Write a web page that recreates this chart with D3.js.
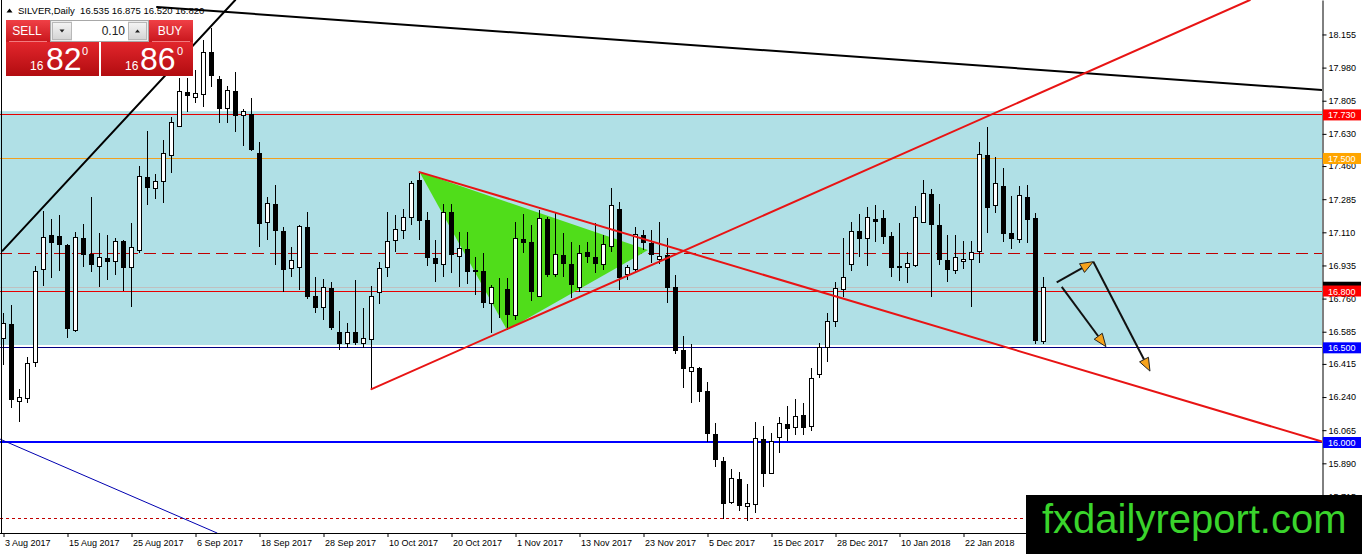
<!DOCTYPE html>
<html><head><meta charset="utf-8">
<script src="https://cdn.jsdelivr.net/npm/d3@7"></script>
<style>
body{margin:0;background:#fff;overflow:hidden}
svg{display:block}
text{font-family:"Liberation Sans",Arial,sans-serif}
</style>
</head><body>
<svg id="c" width="1362" height="554"></svg>
<script>
// ---------------- DATA ----------------
const openP=[16.551,16.625,16.219,16.234,16.425,16.916,17.096,17.090,17.043,16.594,
17.080,16.995,16.932,16.974,16.958,17.064,16.927,17.016,17.402,17.344,
17.381,17.518,17.671,17.851,17.825,17.840,18.062,17.920,17.766,17.856,
17.730,17.735,17.529,17.164,17.259,17.117,16.921,16.927,17.138,16.773,
16.715,16.816,16.583,16.525,16.583,16.525,16.546,16.795,16.927,17.069,
17.122,17.191,17.386,17.175,16.974,16.942,17.217,16.985,17.022,16.911,
16.905,16.736,16.816,16.810,16.673,17.074,17.059,16.773,17.180,16.890,
16.990,16.942,16.821,17.006,16.979,16.942,17.037,17.233,16.890,16.916,
17.096,17.053,16.969,16.990,16.821,16.488,16.377,16.393,16.272,16.044,
15.902,15.685,15.807,15.664,15.675,16.018,15.838,16.029,16.097,16.081,
16.145,16.087,16.361,16.504,16.641,16.810,16.942,17.117,17.080,17.180,
17.185,17.090,16.932,16.927,16.937,17.164,17.312,17.148,16.964,16.911,
16.958,16.969,17.011,17.518,17.254,17.354,17.106,17.074,17.296,17.185,16.535];
const highP=[16.684,16.726,16.282,16.451,16.932,17.222,17.180,17.201,17.048,17.111,
17.154,17.296,17.106,17.096,17.080,17.069,17.159,17.460,17.645,17.418,
17.597,17.719,17.925,17.925,17.967,18.126,18.189,17.936,17.883,17.957,
17.761,17.819,17.587,17.296,17.360,17.138,17.032,17.148,17.217,16.874,
16.863,16.847,16.694,16.631,16.858,16.710,16.826,16.953,17.217,17.201,
17.233,17.381,17.428,17.217,17.069,17.259,17.259,17.111,17.111,16.979,
17.000,16.831,16.868,16.868,17.164,17.207,17.148,17.228,17.191,17.212,
17.106,17.059,17.043,17.059,17.159,17.096,17.344,17.270,16.937,17.138,
17.122,17.122,17.164,17.080,16.884,16.562,16.520,16.398,16.319,16.103,
15.923,15.859,15.844,15.780,16.108,16.087,16.050,16.134,16.192,16.229,
16.208,16.393,16.525,16.684,16.847,17.080,17.164,17.207,17.243,17.254,
17.228,17.111,17.159,17.006,17.249,17.386,17.339,17.259,17.096,17.096,
17.064,17.064,17.587,17.666,17.508,17.450,17.302,17.354,17.360,17.212,16.875];
const lowP=[16.409,16.182,16.108,16.208,16.398,16.826,16.868,16.905,16.551,16.583,
16.927,16.900,16.821,16.858,16.884,16.800,16.715,17.000,17.254,17.286,
17.265,17.423,17.666,17.745,17.793,17.772,17.877,17.687,17.687,17.640,
17.566,17.539,17.032,17.069,16.937,16.795,16.874,16.805,16.758,16.684,
16.647,16.594,16.488,16.499,16.515,16.499,16.282,16.731,16.874,17.006,
17.074,17.148,17.069,16.932,16.847,16.874,16.895,16.821,16.837,16.779,
16.710,16.578,16.657,16.594,16.647,17.000,16.747,16.768,16.874,16.874,
16.874,16.763,16.795,16.948,16.895,16.911,17.006,16.805,16.858,16.900,
17.016,16.948,16.942,16.736,16.467,16.287,16.208,16.213,16.002,15.870,
15.595,15.675,15.638,15.585,15.627,15.764,15.833,15.944,16.007,16.039,
16.039,16.060,16.340,16.425,16.610,16.768,16.905,16.979,16.932,17.059,
17.048,16.874,16.853,16.842,16.927,17.164,16.768,16.937,16.847,16.890,
16.916,16.715,16.948,17.106,17.212,17.059,17.022,17.053,17.053,16.520,16.520];
const closeP=[16.631,16.229,16.240,16.419,16.905,17.085,17.059,17.048,16.604,17.085,
16.995,16.942,16.979,16.958,17.064,16.927,17.032,17.407,17.349,17.381,
17.529,17.692,17.856,17.835,17.846,18.062,17.941,17.766,17.862,17.730,
17.751,17.550,17.159,17.265,17.122,16.916,16.964,17.143,16.773,16.715,
16.821,16.610,16.525,16.583,16.530,16.551,16.773,16.921,17.064,17.127,
17.191,17.370,17.175,16.979,16.948,17.217,16.995,17.027,16.905,16.905,
16.742,16.821,16.818,16.678,17.080,17.059,16.800,17.185,16.890,16.995,
16.948,16.837,17.000,16.985,16.948,17.048,17.254,16.874,16.927,17.101,
17.059,16.995,16.985,16.821,16.488,16.393,16.398,16.272,16.050,15.912,
15.680,15.812,15.669,15.680,16.023,15.838,16.007,16.103,16.076,16.139,
16.081,16.340,16.504,16.641,16.816,16.874,17.117,17.080,17.191,17.170,
17.090,16.927,16.927,16.948,17.191,17.317,17.154,16.969,16.916,16.979,
16.969,17.006,17.523,17.244,17.370,17.106,17.080,17.307,17.180,16.540,16.820];

const xTickIdx=[0,8,16,24,32,40,48,56,64,72,80,88,96,104,112,120];
const xTickLabels=["3 Aug 2017","15 Aug 2017","25 Aug 2017","6 Sep 2017","18 Sep 2017","28 Sep 2017",
"10 Oct 2017","20 Oct 2017","1 Nov 2017","13 Nov 2017","23 Nov 2017","5 Dec 2017","15 Dec 2017",
"28 Dec 2017","10 Jan 2018","22 Jan 2018"];
const yTicks=[18.155,17.980,17.805,17.630,17.460,17.285,17.110,16.935,16.760,16.585,16.415,16.240,16.065,15.890,15.715];

const band=[16.515,17.75];
const levelPrices=[17.73,17.5,17.0,16.82,16.8,16.5,16.0,15.6];
const levelColors=["#e80000","#f0a020","#c00000","#c0c0c0","#e80000","#000080","#0000ff","#c00000"];
const levelDash=[null,null,"12,6",null,null,null,null,"3,3"];
const levelWidth=[1,1,1,1,1,1,2,1];

const tagPrices=[17.73,17.5,16.82,16.8,16.5,16.0];
const tagColors=["#ff0000","#ffa500","#000000","#ff0000","#0000ff","#0000ff"];
const tagShowText=[true,true,false,true,true,true];

// trend lines: [i1,p1,i2,p2]
const blackLines=[[-0.1,17.013,28.97,18.337],[19.19,18.300,164.8,17.862]];
const blueLine=[-0.44,16.018,26.69,15.522];
const redLines=[[46,16.282,155.8,18.337],[52,17.428,164.8,16.005]];
const triI=[52,80.56,62.94];
const triP=[17.428,17.016,16.594];
// arrows: [i1,p1,i2,p2]
const arrows=[[131.65,16.846,136.23,16.955],[136.23,16.955,143.31,16.377],[132.28,16.822,137.81,16.506]];

// ---------------- CHART ----------------
const plotR=1322, plotB=533;
const x=d3.scaleLinear().domain([0,130]).range([3.5,1043.5]);
const y=d3.scaleLinear().domain([15.522,18.337]).range([533,0]);
const svg=d3.select("#c");
const defs=svg.append("defs");
defs.append("clipPath").attr("id","plot").append("rect").attr("x",0).attr("y",0).attr("width",plotR).attr("height",plotB);

const g=svg.append("g").attr("clip-path","url(#plot)");
g.append("rect").attr("x",0).attr("width",plotR).attr("y",y(band[1])).attr("height",y(band[0])-y(band[1])).attr("fill","#b0e0e6");

levelPrices.forEach((p,k)=>{
  const yy=levelWidth[k]===2?Math.round(y(p)):Math.round(y(p)-0.5)+0.5;
  g.append("line").attr("x1",0).attr("x2",plotR).attr("y1",yy).attr("y2",yy)
   .attr("stroke",levelColors[k]).attr("stroke-width",levelWidth[k])
   .attr("stroke-dasharray",levelDash[k]);
});

// green triangle
g.append("polygon").attr("points",triI.map((d,k)=>x(d)+","+y(triP[k])).join(" ")).attr("fill","#50dd1a");

// candles
const data=openP.map((o,i)=>({i,o,h:highP[i],l:lowP[i],c:closeP[i]}));
const px=i=>Math.round(x(i)-0.5)+0.5;
const cg=g.append("g");
cg.selectAll("line").data(data).join("line")
  .attr("x1",d=>px(d.i)).attr("x2",d=>px(d.i))
  .attr("y1",d=>Math.round(y(d.h))).attr("y2",d=>Math.round(y(d.l)))
  .attr("stroke","#000").attr("stroke-width",1);
cg.selectAll("rect").data(data).join("rect")
  .attr("x",d=>px(d.i)-2).attr("width",4)
  .attr("y",d=>Math.round(y(Math.max(d.o,d.c)))+0.5)
  .attr("height",d=>Math.max(0,Math.round(y(Math.min(d.o,d.c)))-Math.round(y(Math.max(d.o,d.c)))))
  .attr("fill",d=>d.c>=d.o?"#fff":"#000").attr("stroke","#000").attr("stroke-width",1);

// trend lines
const seg=(a,col,w)=>g.append("line").attr("x1",x(a[0])).attr("y1",y(a[1])).attr("x2",x(a[2])).attr("y2",y(a[3]))
  .attr("stroke",col).attr("stroke-width",w).attr("stroke-linecap","round");
seg(blueLine,"#0000b0",1);
blackLines.forEach(a=>seg(a,"#000",2));
redLines.forEach(a=>seg(a,"#e81414",2));

// arrows
arrows.forEach(a=>{
  const x1=x(a[0]),y1=y(a[1]),x2=x(a[2]),y2=y(a[3]);
  const dx=x2-x1,dy=y2-y1,L=Math.hypot(dx,dy),ux=dx/L,uy=dy/L,nx=-uy,ny=ux;
  const hl=13,hw=5;
  const bx=x2-ux*hl,by=y2-uy*hl;
  g.append("line").attr("x1",x1).attr("y1",y1).attr("x2",bx).attr("y2",by).attr("stroke","#111").attr("stroke-width",2);
  g.append("polygon").attr("points",[[x2,y2],[bx+nx*hw,by+ny*hw],[bx-nx*hw,by-ny*hw]].map(p=>p.join(",")).join(" "))
   .attr("fill","#f5a21c").attr("stroke","#222").attr("stroke-width",1);
});

// frame
svg.append("line").attr("x1",1.5).attr("x2",1.5).attr("y1",0).attr("y2",plotB).attr("stroke","#000");
svg.append("line").attr("x1",0).attr("x2",plotR).attr("y1",plotB+0.5).attr("y2",plotB+0.5).attr("stroke","#000");

// y axis
const ya=svg.append("g").attr("transform",`translate(${plotR+0.5},0)`)
  .call(d3.axisRight(y).tickValues(yTicks).tickFormat(d3.format(".3f")).tickSize(4).tickPadding(2).tickSizeOuter(0));
ya.select(".domain").attr("stroke","#000");
ya.selectAll("text").attr("font-size",9).attr("fill","#000").attr("font-family","'Liberation Sans',Arial,sans-serif");

// price tags
tagPrices.forEach((p,k)=>{
  const yy=y(p);
  svg.append("rect").attr("x",plotR+1).attr("y",yy-5.5).attr("width",38).attr("height",11).attr("fill",tagColors[k]);
  if(tagShowText[k]) svg.append("text").attr("x",plotR+6).attr("y",yy+3.5).attr("font-size",9).attr("fill","#fff").text(d3.format(".3f")(p));
});

// x axis
const xa=svg.append("g").attr("transform",`translate(0,${plotB})`)
  .call(d3.axisBottom(x).tickValues(xTickIdx).tickFormat((d,k)=>xTickLabels[k]).tickSize(4).tickSizeOuter(0));
xa.select(".domain").remove();
xa.selectAll(".tick line").attr("stroke","#000");
xa.selectAll("text").attr("text-anchor","start").attr("dx",1).attr("y",7).attr("dy","0.71em")
  .attr("font-size",9).attr("fill","#000").attr("font-family","'Liberation Sans',Arial,sans-serif");

// header
svg.append("path").attr("d","M6.5,12.5 L9.5,8.5 L12.5,12.5 Z").attr("fill","#000");
svg.append("text").attr("x",18).attr("y",13.5).attr("font-size",9.5).attr("fill","#000")
  .text("SILVER,Daily  16.535 16.875 16.520 16.820").attr("xml:space","preserve").style("white-space","pre");

// trade panel
const gr1=defs.append("linearGradient").attr("id","rbtn").attr("x1",0).attr("y1",0).attr("x2",0).attr("y2",1);
gr1.append("stop").attr("offset","0").attr("stop-color","#f04046");
gr1.append("stop").attr("offset","1").attr("stop-color","#c8161c");
const gr2=defs.append("linearGradient").attr("id","rbig").attr("x1",0).attr("y1",0).attr("x2",0).attr("y2",1);
gr2.append("stop").attr("offset","0").attr("stop-color","#e2262c");
gr2.append("stop").attr("offset","1").attr("stop-color","#b20c10");
const gr3=defs.append("linearGradient").attr("id","gbtn").attr("x1",0).attr("y1",0).attr("x2",0).attr("y2",1);
gr3.append("stop").attr("offset","0").attr("stop-color","#f4f4f4");
gr3.append("stop").attr("offset","1").attr("stop-color","#d4d4d4");

const P=svg.append("g");
P.append("rect").attr("x",6).attr("y",20).attr("width",44).attr("height",22).attr("fill","url(#rbtn)");
P.append("rect").attr("x",149).attr("y",20).attr("width",44).attr("height",22).attr("fill","url(#rbtn)");
P.append("rect").attr("x",50.5).attr("y",20.5).attr("width",98).attr("height",21).attr("fill","#ececec").attr("stroke","#a8a8a8");
P.append("rect").attr("x",52.5).attr("y",22.5).attr("width",19).attr("height",17).attr("fill","url(#gbtn)").attr("stroke","#b8b8b8");
P.append("rect").attr("x",72).attr("y",21).attr("width",56).attr("height",20).attr("fill","#fff");
P.append("rect").attr("x",128.5).attr("y",22.5).attr("width",18).attr("height",17).attr("fill","url(#gbtn)").attr("stroke","#b8b8b8");
P.append("path").attr("d","M59.5,29.5 L64.5,29.5 L62,32.5 Z").attr("fill","#222");
P.append("path").attr("d","M135,32.5 L140,32.5 L137.5,29.5 Z").attr("fill","#222");
P.append("text").attr("x",125).attr("y",35).attr("text-anchor","end").attr("font-size",12).attr("fill","#222").text("0.10");
P.append("rect").attr("x",6).attr("y",42).attr("width",93).attr("height",34).attr("fill","url(#rbig)");
P.append("rect").attr("x",101).attr("y",42).attr("width",92).attr("height",34).attr("fill","url(#rbig)");
P.append("line").attr("x1",9).attr("x2",47).attr("y1",41.5).attr("y2",41.5).attr("stroke","#f27a7e");
P.append("line").attr("x1",152).attr("x2",190).attr("y1",41.5).attr("y2",41.5).attr("stroke","#f27a7e");
P.append("text").attr("x",27).attr("y",35).attr("text-anchor","middle").attr("font-size",12).attr("fill","#fff").text("SELL");
P.append("text").attr("x",170).attr("y",35).attr("text-anchor","middle").attr("font-size",12).attr("fill","#fff").text("BUY");
[[30,46,82,"82"],[125,140,177,"86"]].forEach(d=>{
  P.append("text").attr("x",d[0]).attr("y",70).attr("font-size",12).attr("fill","#fff").text("16");
  P.append("text").attr("x",d[1]).attr("y",70).attr("font-size",32).attr("fill","#fff").text(d[3]);
  P.append("text").attr("x",d[2]).attr("y",55).attr("font-size",11).attr("fill","#fff").text("0");
});

// watermark
svg.append("rect").attr("x",1026).attr("y",495).attr("width",336).attr("height",59).attr("fill","#000");
svg.append("text").attr("x",1042).attr("y",533).attr("font-size",40).attr("fill","#3ad42c").text("fxdailyreport.com");
</script>
</body></html>
